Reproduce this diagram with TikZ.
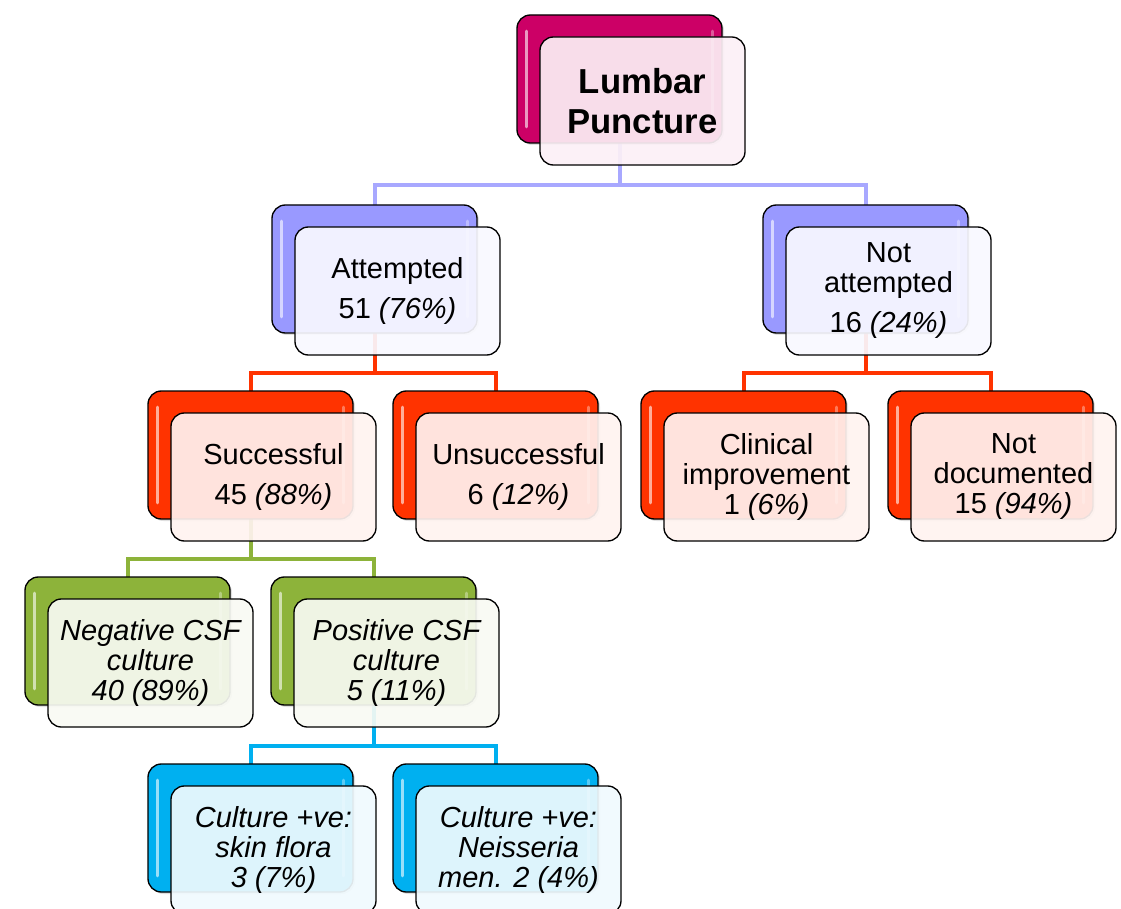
\documentclass[tikz,border=0pt]{standalone}
\usepackage{fontspec}
\setmainfont{Liberation Sans}
\usetikzlibrary{positioning,calc,shadows}
\pgfdeclarelayer{background}
\pgfsetlayers{background,main}
\definecolor{lpMag}{HTML}{CC0066}
\definecolor{lpLav}{HTML}{9999FF}
\definecolor{lpLavLine}{HTML}{A8A8FF}
\definecolor{lpRed}{HTML}{FF3300}
\definecolor{lpGreen}{HTML}{8DB33A}
\definecolor{lpBlue}{HTML}{00B0F0}
\begin{document}
\begin{tikzpicture}[
  x=0.75pt,y=-0.75pt,
  back/.style={rectangle,draw=black,line width=1pt,rounded corners=10pt,
    minimum width=153.75pt,minimum height=96pt,fill=#1,
    drop shadow={opacity=0.25,shadow xshift=1.5pt,shadow yshift=-1.5pt},
    path picture={
      \draw[white,opacity=0.6,line width=2.2pt,line cap=round]
        ([xshift=7pt,yshift=-12pt]path picture bounding box.north west)--([xshift=7pt,yshift=12pt]path picture bounding box.south west);
      \draw[white,opacity=0.35,line width=2.2pt,line cap=round]
        ([xshift=-7pt,yshift=-12pt]path picture bounding box.north east)--([xshift=-7pt,yshift=12pt]path picture bounding box.south east);}},
  front/.style={rectangle,draw=black,line width=1pt,rounded corners=10pt,
    minimum width=153.75pt,minimum height=96pt,fill=#1!6!white,
    fill opacity=0.92,text opacity=1,align=center,inner sep=2pt,
    font=\fontsize{21.75}{30}\selectfont},
  tight/.style={font=\fontsize{21.75}{22.5}\selectfont},
  tightit/.style={font=\fontsize{21.75}{22.5}\selectfont\itshape},
  link/.style={draw=#1,line width=3pt}]
  \useasboundingbox (0,0) rectangle (1121,909);
  % root
  \node[back=lpMag](rootB) at (619.5,79) {};
  \node[front=lpMag,font=\fontsize{26}{30}\selectfont\bfseries](rootF) at ([shift={(23,22)}]rootB.center) {Lumbar\\Puncture};
  % level 1
  \node[back=lpLav](attB) at (374.5,269) {};
  \node[front=lpLav](attF) at ([shift={(23,22)}]attB.center) {Attempted\\51 \textit{(76\%)}};
  \node[back=lpLav](natB) at (865.5,269) {};
  \node[front=lpLav,tight](natF) at ([shift={(23,22)}]natB.center) {Not\\attempted\\[7.5pt]16 \textit{(24\%)}};
  % level 2
  \node[back=lpRed](sucB) at (250.5,455) {};
  \node[front=lpRed](sucF) at ([shift={(23,22)}]sucB.center) {Successful\\45 \textit{(88\%)}};
  \node[back=lpRed](unsB) at (495.5,455) {};
  \node[front=lpRed](unsF) at ([shift={(23,22)}]unsB.center) {Unsuccessful\\6 \textit{(12\%)}};
  \node[back=lpRed](clinB) at (743.5,455) {};
  \node[front=lpRed,tight](clinF) at ([shift={(23,22)}]clinB.center) {Clinical\\improvement\\1 \textit{(6\%)}};
  \node[back=lpRed](ndocB) at (990.5,455) {};
  \node[front=lpRed,tight](ndocF) at ([shift={(23,22)}]ndocB.center) {Not\\documented\\15 \textit{(94\%)}};
  % level 3
  \node[back=lpGreen](negB) at (127.5,641) {};
  \node[front=lpGreen,tightit](negF) at ([shift={(23,22)}]negB.center) {Negative CSF\\culture\\40 (89\%)};
  \node[back=lpGreen](posB) at (373.5,641) {};
  \node[front=lpGreen,tightit](posF) at ([shift={(23,22)}]posB.center) {Positive CSF\\culture\\5 (11\%)};
  % level 4
  \node[back=lpBlue](skinB) at (250.5,828) {};
  \node[front=lpBlue,tightit](skinF) at ([shift={(23,22)}]skinB.center) {Culture +ve:\\skin flora\\3 (7\%)};
  \node[back=lpBlue](neisB) at (495.5,828) {};
  \node[front=lpBlue,tightit](neisF) at ([shift={(23,22)}]neisB.center) {Culture +ve:\\Neisseria\\men. 2 (4\%)};
  % connectors
  \begin{pgfonlayer}{background}
    \draw[link=lpLavLine](rootB.center)|-($(rootF.south)!0.5!(attB.north)$)-|(attB.center);
    \draw[link=lpLavLine](rootB.center)|-($(rootF.south)!0.5!(natB.north)$)-|(natB.center);
    \draw[link=lpRed](attB.center)|-($(attF.south)!0.5!(sucB.north)$)-|(sucB.center);
    \draw[link=lpRed](attB.center)|-($(attF.south)!0.5!(unsB.north)$)-|(unsB.center);
    \draw[link=lpRed](natB.center)|-($(natF.south)!0.5!(clinB.north)$)-|(clinB.center);
    \draw[link=lpRed](natB.center)|-($(natF.south)!0.5!(ndocB.north)$)-|(ndocB.center);
    \draw[link=lpGreen](sucB.center)|-($(sucF.south)!0.5!(negB.north)$)-|(negB.center);
    \draw[link=lpGreen](sucB.center)|-($(sucF.south)!0.5!(posB.north)$)-|(posB.center);
    \draw[link=lpBlue](posB.center)|-($(posF.south)!0.5!(skinB.north)$)-|(skinB.center);
    \draw[link=lpBlue](posB.center)|-($(posF.south)!0.5!(neisB.north)$)-|(neisB.center);
  \end{pgfonlayer}
\end{tikzpicture}
\end{document}
